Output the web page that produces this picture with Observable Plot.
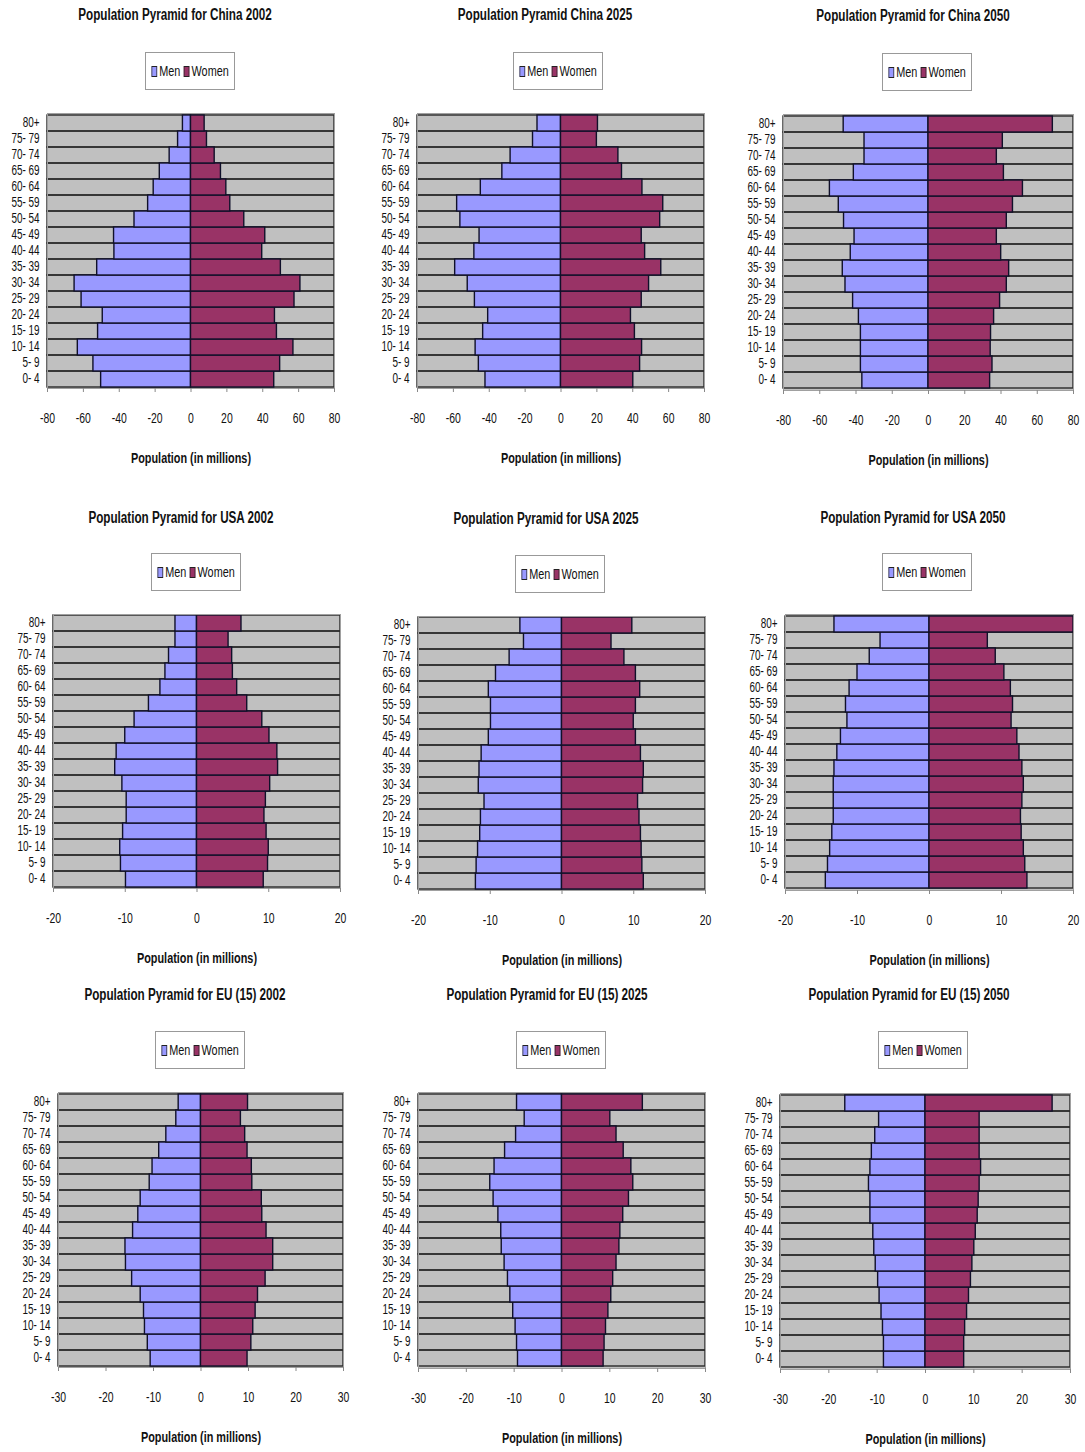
<!DOCTYPE html>
<html>
<head>
<meta charset="utf-8">
<script src="https://cdn.jsdelivr.net/npm/d3@7"></script>
<script src="https://cdn.jsdelivr.net/npm/@observablehq/plot@0.6"></script>
<style>
  body { margin: 0; background: #fff; width: 1085px; height: 1452px; position: relative; overflow: hidden;
         font-family: "Liberation Sans", Arial, sans-serif; color: #111; }
  .title { position: absolute; font-weight: bold; font-size: 16px; white-space: nowrap;
           transform: translate(-50%, -50%) scaleX(0.73); }
  .legend { position: absolute; width: 88px; height: 36px; border: 1px solid #999; background: #fff;
            display: flex; align-items: center; justify-content: center; font-size: 15.5px; }
  .legend .inner { flex: none; white-space: nowrap; transform: scaleX(0.7); transform-origin: center; display: flex; align-items: center; }
  .legend .sw { flex: none; display: inline-block; width: 6px; height: 9px; border: 1px solid #222; margin: 0 3px 0 0; }
  .legend .gap { display: inline-block; width: 5px; }
  .panel { position: absolute; }
</style>
</head>
<body>
<script>
// Age groups, youngest first
const ages = ["0- 4", "5- 9", "10- 14", "15- 19", "20- 24", "25- 29", "30- 34", "35- 39", "40- 44",
              "45- 49", "50- 54", "55- 59", "60- 64", "65- 69", "70- 74", "75- 79", "80+"];

// Population in millions, youngest age group first
const chinaMen2002   = [50.1, 54.4, 63.1, 51.8, 49.2, 61.0, 64.9, 52.3, 42.7, 42.9, 31.5, 23.9, 20.8, 17.4, 11.9, 7.2, 4.5];
const chinaWomen2002 = [46.4, 49.7, 57.1, 47.9, 46.8, 57.7, 61.0, 50.1, 39.7, 41.4, 29.7, 21.9, 19.7, 16.7, 13.2, 8.9, 7.6];
const chinaMen2025   = [42.1, 45.8, 47.6, 43.4, 40.6, 48.0, 52.0, 59.0, 48.3, 45.4, 56.1, 57.9, 44.7, 32.7, 28.1, 15.6, 13.1];
const chinaWomen2025 = [40.3, 44.1, 45.2, 41.2, 39.0, 45.0, 49.1, 55.9, 46.9, 45.0, 55.3, 57.0, 45.4, 34.0, 32.0, 20.0, 20.6];
const chinaMen2050   = [36.5, 37.3, 37.3, 37.3, 38.4, 41.6, 45.8, 47.3, 42.9, 40.8, 46.6, 49.5, 54.4, 41.2, 35.3, 35.3, 46.8];
const chinaWomen2050 = [34.0, 35.3, 34.3, 34.5, 36.2, 39.5, 43.2, 44.5, 40.1, 37.7, 43.2, 46.6, 52.1, 41.6, 37.7, 41.0, 68.6];

const usaMen2002   = [9.9, 10.6, 10.7, 10.3, 9.8, 9.8, 10.4, 11.4, 11.2, 10.0, 8.7, 6.7, 5.1, 4.4, 3.9, 3.0, 3.0];
const usaWomen2002 = [9.3, 9.9, 10.0, 9.7, 9.4, 9.6, 10.2, 11.3, 11.2, 10.1, 9.1, 7.0, 5.6, 5.0, 4.9, 4.4, 6.2];
const usaMen2025   = [12.0, 11.9, 11.7, 11.4, 11.3, 10.8, 11.6, 11.5, 11.2, 10.2, 9.9, 9.9, 10.2, 9.2, 7.3, 5.3, 5.8];
const usaWomen2025 = [11.4, 11.2, 11.1, 11.0, 10.8, 10.6, 11.3, 11.4, 11.0, 10.3, 10.0, 10.3, 10.9, 10.3, 8.7, 6.9, 9.8];
const usaMen2050   = [14.4, 14.1, 13.8, 13.5, 13.3, 13.3, 13.3, 13.2, 12.8, 12.3, 11.4, 11.6, 11.1, 10.0, 8.3, 6.8, 13.2];
const usaWomen2050 = [13.6, 13.3, 13.1, 12.8, 12.7, 12.9, 13.1, 12.9, 12.5, 12.2, 11.4, 11.6, 11.3, 10.4, 9.2, 8.1, 20.0];

const euMen2002   = [10.6, 11.2, 11.8, 12.0, 12.7, 14.5, 15.8, 15.9, 14.3, 13.2, 12.7, 10.8, 10.2, 8.8, 7.3, 5.2, 4.7];
const euWomen2002 = [9.8, 10.6, 11.0, 11.5, 12.0, 13.6, 15.2, 15.2, 13.8, 12.9, 12.8, 10.8, 10.7, 9.8, 9.3, 8.4, 9.9];
const euMen2025   = [9.2, 9.4, 9.7, 10.2, 10.8, 11.3, 12.0, 12.6, 12.7, 13.3, 14.3, 15.0, 14.1, 11.9, 9.6, 7.8, 9.4];
const euWomen2025 = [8.7, 8.9, 9.2, 9.7, 10.3, 10.7, 11.4, 12.0, 12.2, 12.8, 14.0, 14.9, 14.5, 12.9, 11.4, 10.1, 16.9];
const euMen2050   = [8.6, 8.6, 8.8, 9.1, 9.5, 9.8, 10.3, 10.6, 10.8, 11.4, 11.4, 11.7, 11.4, 11.1, 10.4, 9.6, 16.6];
const euWomen2050 = [8.0, 8.0, 8.2, 8.6, 9.0, 9.4, 9.7, 10.1, 10.4, 10.8, 11.0, 11.2, 11.5, 11.2, 11.2, 11.2, 26.3];

// x-axis ticks for each country
const chinaTicks = [-80, -60, -40, -20, 0, 20, 40, 60, 80];
const usaTicks   = [-20, -10, 0, 10, 20];
const euTicks    = [-30, -20, -10, 0, 10, 20, 30];

const titles = [
  "Population Pyramid for China 2002", "Population Pyramid China 2025", "Population Pyramid for China 2050",
  "Population Pyramid for USA 2002", "Population Pyramid for USA 2025", "Population Pyramid for USA 2050",
  "Population Pyramid for EU (15) 2002", "Population Pyramid for EU (15) 2025", "Population Pyramid for EU (15) 2050"
];
const series = [
  [chinaMen2002, chinaWomen2002, chinaTicks], [chinaMen2025, chinaWomen2025, chinaTicks], [chinaMen2050, chinaWomen2050, chinaTicks],
  [usaMen2002, usaWomen2002, usaTicks], [usaMen2025, usaWomen2025, usaTicks], [usaMen2050, usaWomen2050, usaTicks],
  [euMen2002, euWomen2002, euTicks], [euMen2025, euWomen2025, euTicks], [euMen2050, euWomen2050, euTicks]
];

// Page layout: plot frame [left, top, right, bottom], title centre, legend top-left
const layout = [
  {frame: [47, 113, 334, 388],    title: [175, 15],  legend: [145, 52]},
  {frame: [417, 113, 704, 388],   title: [545, 15],  legend: [513, 52]},
  {frame: [783, 114, 1073, 390],  title: [913, 16],  legend: [882, 53]},
  {frame: [53, 614, 340, 888],    title: [181, 518], legend: [151, 553]},
  {frame: [418, 616, 705, 890],   title: [546, 519], legend: [515, 555]},
  {frame: [785, 614, 1073, 890],  title: [913, 518], legend: [882, 553]},
  {frame: [58, 1092, 343, 1367],  title: [185, 995], legend: [155, 1031]},
  {frame: [418, 1092, 705, 1368], title: [547, 995], legend: [516, 1031]},
  {frame: [780, 1093, 1070, 1369],title: [909, 995], legend: [878, 1031]}
];

const MEN = "#9999ff", WOMEN = "#993366";
const FONT = '"Liberation Sans", Arial, sans-serif';

function squeeze(nodes, k) {
  nodes.forEach(t => t.setAttribute("transform", (t.getAttribute("transform") || "") + ` scale(${k},1)`));
}

series.forEach(([men, women, ticks], i) => {
  const {frame: [L, T, R, B], title: [tx, ty], legend: [lx, ly]} = layout[i];
  const max = d3.max(ticks);
  const rows = ages.map((age, j) => ({age, men: men[j], women: women[j]}));

  const mL = 70, mR = 12, mT = 2, mB = 84;
  const chart = Plot.plot({
    width: (R - L) + mL + mR,
    height: (B - T) + mT + mB,
    marginLeft: mL, marginRight: mR, marginTop: mT, marginBottom: mB,
    style: {background: "transparent", fontFamily: FONT, fontSize: "15px", color: "#111"},
    x: {domain: [-max, max]},
    y: {domain: ages.slice().reverse(), padding: 0},
    marks: [
      Plot.frame({fill: "#c0c0c0"}),
      // horizontal gridlines between age bands
      Plot.barX(ages, {x1: -max, x2: max, y: d => d, fill: "none", stroke: "#2a2a2a", strokeWidth: 1.4}),
      Plot.barX(rows, {x1: 0, x2: d => -d.men, y: "age", fill: MEN, stroke: "#10102a", strokeWidth: 1.4}),
      Plot.barX(rows, {x1: 0, x2: "women", y: "age", fill: WOMEN, stroke: "#10102a", strokeWidth: 1.4}),
      Plot.frame({stroke: "#a0a0a0", strokeWidth: 1}),
      Plot.axisY({tickSize: 0, tickPadding: 8, label: null, fontSize: 15.5, dy: -1}),
      Plot.axisX({ticks, tickFormat: d => String(d), tickSize: 4, tickPadding: 20, stroke: "#888", fontSize: 14.5,
                  label: "Population (in millions)", labelAnchor: "center", labelArrow: "none", labelOffset: 74})
    ]
  });

  // narrow lettering for the axis text
  squeeze(chart.querySelectorAll('g[aria-label="y-axis tick label"] text'), 0.64);
  squeeze(chart.querySelectorAll('g[aria-label="x-axis tick label"] text'), 0.72);
  const xl = chart.querySelector('g[aria-label="x-axis label"]');
  if (xl) xl.setAttribute("font-weight", "bold");
  squeeze(chart.querySelectorAll('g[aria-label="x-axis label"] text'), 0.75);

  const wrap = document.createElement("div");
  wrap.className = "panel";
  wrap.style.left = (L - mL) + "px";
  wrap.style.top = (T - mT) + "px";
  wrap.appendChild(chart);
  document.body.appendChild(wrap);

  const t = document.createElement("div");
  t.className = "title";
  t.style.left = tx + "px";
  t.style.top = ty + "px";
  t.textContent = titles[i];
  document.body.appendChild(t);

  const lg = document.createElement("div");
  lg.className = "legend";
  lg.style.left = lx + "px";
  lg.style.top = ly + "px";
  lg.innerHTML = `<span class="inner"><span class="sw" style="background:${MEN}"></span>Men<span class="gap"></span>` +
                 `<span class="sw" style="background:${WOMEN}"></span>Women</span>`;
  document.body.appendChild(lg);
});
</script>
</body>
</html>
